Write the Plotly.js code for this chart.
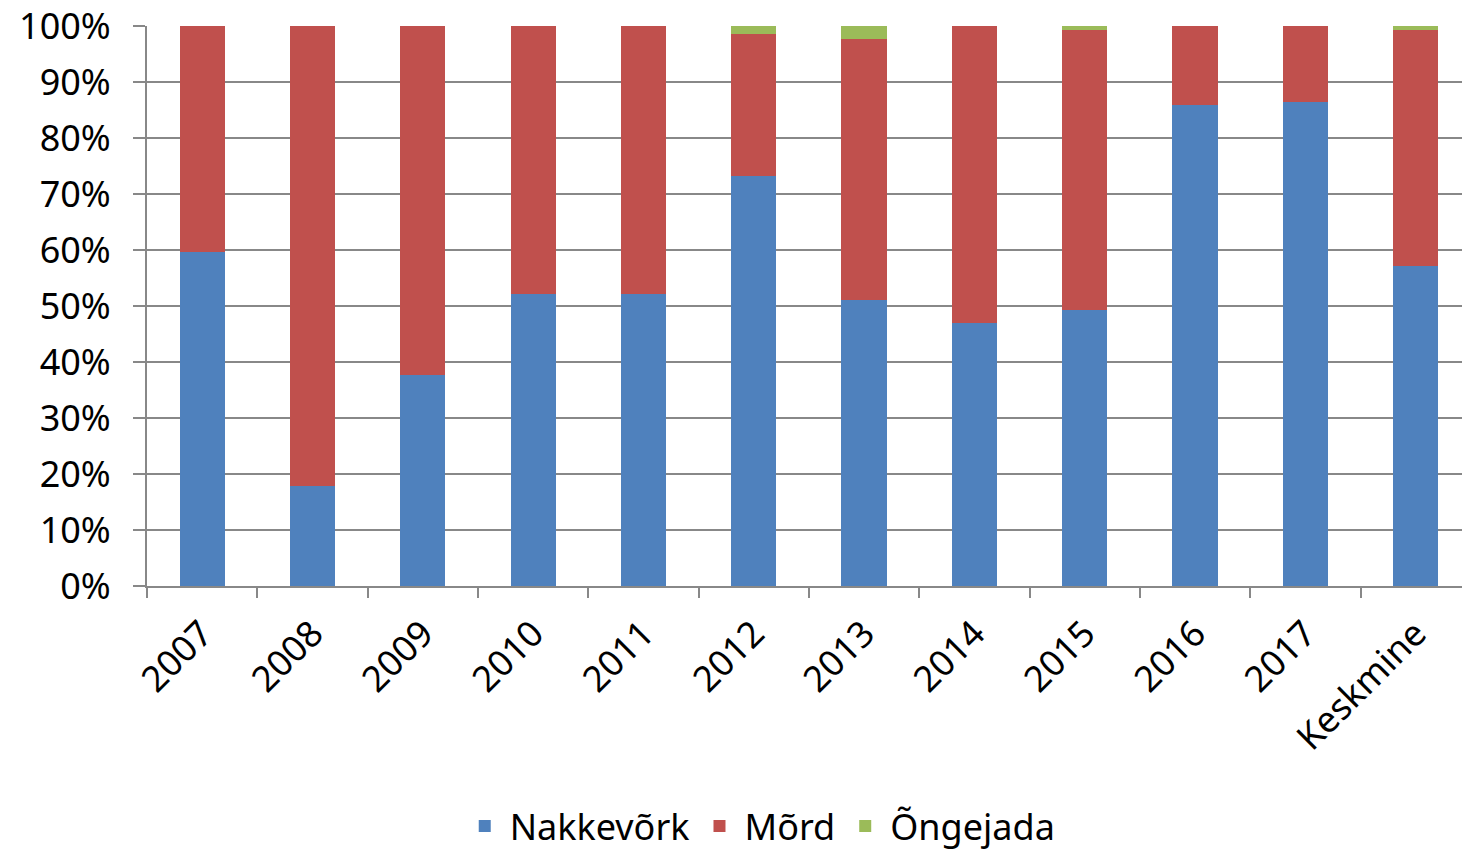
<!DOCTYPE html>
<html>
<head>
<meta charset="utf-8">
<script src="https://cdn.plot.ly/plotly-3.0.1.min.js"></script>
<style>
  html, body { margin: 0; padding: 0; background: #fff; }
  #chart { width: 1462px; height: 857px; }
</style>
</head>
<body>
<div id="chart"></div>
<script>
// categories and shares (%)
var years = ['2007', '2008', '2009', '2010', '2011', '2012', '2013', '2014', '2015', '2016', '2017', 'Keskmine'];
var nakkevork = [59.6, 17.9, 37.7, 52.1, 52.1, 73.2, 51.0, 47.0, 49.2, 85.9, 86.4, 57.2];
var ongejada = [0, 0, 0, 0, 0, 1.4, 2.4, 0, 0.8, 0, 0, 0.8];
var mord = [40.4, 82.1, 62.3, 47.9, 47.9, 25.4, 46.6, 53.0, 50.0, 14.1, 13.6, 42.0];

var fontFam = 'Noto Sans, Open Sans, sans-serif';

var trace1 = {
  x: years, y: nakkevork, type: 'bar', name: 'Nakkevõrk',
  marker: {color: '#4F81BD'}
};
var trace2 = {
  x: years, y: mord, type: 'bar', name: 'Mõrd',
  marker: {color: '#C0504D'}
};
var trace3 = {
  x: years, y: ongejada, type: 'bar', name: 'Õngejada',
  marker: {color: '#9BBB59'}
};

var data = [trace1, trace2, trace3];

var layout = {
  width: 1462,
  height: 857,
  barmode: 'stack',
  bargap: 0.59,
  margin: {l: 147, r: 0, t: 26, b: 271},
  paper_bgcolor: '#fff',
  plot_bgcolor: '#fff',
  font: {family: fontFam, size: 36, color: '#000'},
  showlegend: true,
  legend: {
    orientation: 'h', xref: 'container', yref: 'container',
    x: 0.52, xanchor: 'center', y: 0.036, yanchor: 'middle',
    font: {family: fontFam, size: 36, color: '#000'},
    traceorder: 'normal', itemwidth: 40
  },
  xaxis: {
    type: 'category',
    automargin: false,
    range: [-0.5, 11.42],
    tickangle: -45,
    ticks: 'outside', ticklen: 10, tickwidth: 2, tickcolor: '#888',
    tickson: 'boundaries',
    ticklabelstandoff: 10,
    showline: true, linecolor: '#888', linewidth: 2,
    showgrid: false,
    tickfont: {family: fontFam, size: 36, color: '#000'}
  },
  yaxis: {
    automargin: false,
    range: [0, 100],
    tickvals: [0, 10, 20, 30, 40, 50, 60, 70, 80, 90, 100],
    ticktext: ['0%', '10%', '20%', '30%', '40%', '50%', '60%', '70%', '80%', '90%', '100%'],
    ticks: 'outside', ticklen: 12, tickwidth: 2, tickcolor: '#888',
    ticklabelstandoff: 15,
    showline: true, linecolor: '#888', linewidth: 2,
    showgrid: true, gridcolor: '#888', gridwidth: 2,
    zeroline: false,
    tickfont: {family: fontFam, size: 36, color: '#000'}
  }
};

Plotly.newPlot('chart', data, layout, {displayModeBar: false});
</script>
</body>
</html>
